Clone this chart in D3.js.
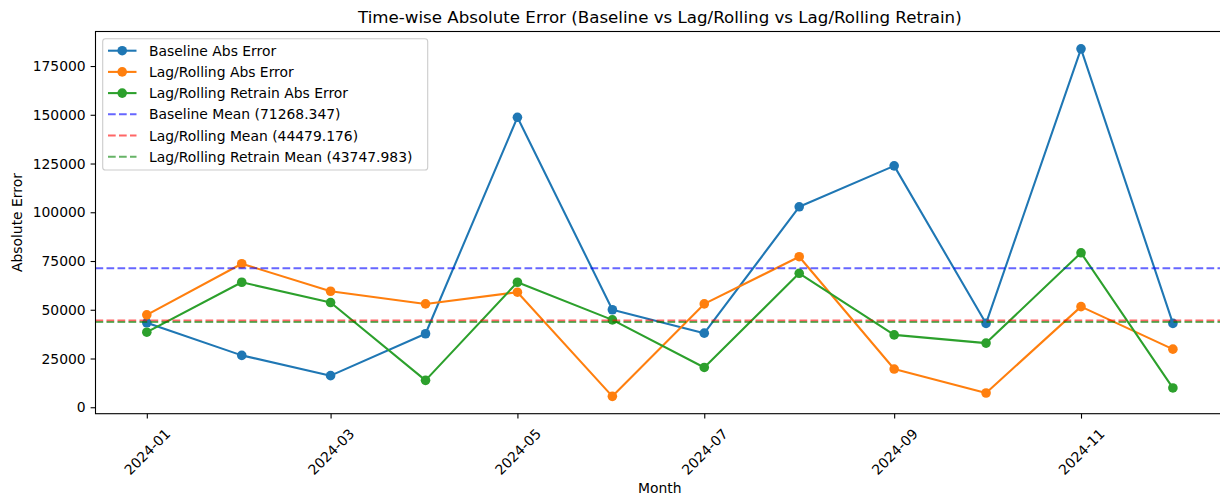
<!DOCTYPE html>
<html>
<head>
<meta charset="utf-8">
<script src="https://cdn.jsdelivr.net/npm/d3@7"></script>
<style>
  html, body { margin: 0; padding: 0; background: #fff; }
  svg { display: block; }
  text { font-family: "DejaVu Sans", sans-serif; fill: #000; }
</style>
</head>
<body>
<svg id="chart" width="1220" height="500"></svg>
<script>
// ---- data ----
const months = ["2024-01","2024-02","2024-03","2024-04","2024-05","2024-06",
                "2024-07","2024-08","2024-09","2024-10","2024-11","2024-12"];
const baselineErr = [43300, 26600, 16200, 37700, 148700, 50000, 38000, 102800, 123800, 43000, 183800, 43000];
const lagErr      = [47400, 73600, 59500, 53000, 59000, 5600, 53000, 77200, 19600, 7300, 51600, 29800];
const retrainErr  = [38500, 64100, 53700, 13800, 64100, 44800, 20400, 68700, 37100, 32900, 79200, 9900];
const meanValues  = [71268.347, 44479.176, 43747.983];
const yTicks = [0, 25000, 50000, 75000, 100000, 125000, 150000, 175000];
const xTickMonths = ["2024-01","2024-03","2024-05","2024-07","2024-09","2024-11"];

const seriesNames = ["Baseline Abs Error", "Lag/Rolling Abs Error", "Lag/Rolling Retrain Abs Error"];
const meanNames = ["Baseline Mean", "Lag/Rolling Mean", "Lag/Rolling Retrain Mean"];
const seriesColors = ["#1f77b4", "#ff7f0e", "#2ca02c"];
const meanColors = ["rgb(0,0,255)", "rgb(255,0,0)", "rgb(0,128,0)"];

(function () {
// ---- layout ----
const svg = d3.select("#chart");
const mLeft = 95.5, mTop = 31.5, mBottom = 413.7, mRight = 1224.2;
const parse = d3.utcParse("%Y-%m");
const dates = months.map(parse);
const span = dates[dates.length - 1] - dates[0];
const x = d3.scaleUtc()
  .domain([new Date(+dates[0] - span * 0.05), new Date(+dates[dates.length - 1] + span * 0.05)])
  .range([mLeft, mRight]);

const all = baselineErr.concat(lagErr, retrainErr);
const ymin = d3.min(all), ymax = d3.max(all);
const ypad = (ymax - ymin) * 0.05;
const y = d3.scaleLinear().domain([ymin - ypad, ymax + ypad]).range([mBottom, mTop]);

// title
svg.append("text")
  .attr("x", (mLeft + mRight) / 2).attr("y", 22.5)
  .attr("text-anchor", "middle").style("font-size", "16.67px")
  .text("Time-wise Absolute Error (Baseline vs Lag/Rolling vs Lag/Rolling Retrain)");

// series
const seriesData = [baselineErr, lagErr, retrainErr];
const line = d3.line().x((d, i) => x(dates[i])).y(d => y(d));
const plot = svg.append("g");
seriesData.forEach((vals, k) => {
  plot.append("path").datum(vals)
    .attr("d", line).attr("fill", "none")
    .attr("stroke", seriesColors[k]).attr("stroke-width", 2.08)
    .attr("stroke-linejoin", "round").attr("stroke-linecap", "square");
  plot.selectAll(null).data(vals).enter().append("circle")
    .attr("cx", (d, i) => x(dates[i])).attr("cy", d => y(d))
    .attr("r", 4.8).attr("fill", seriesColors[k]);
});

// mean lines
meanValues.forEach((m, k) => {
  plot.append("line")
    .attr("x1", mLeft).attr("x2", mRight)
    .attr("y1", y(m)).attr("y2", y(m))
    .attr("stroke", meanColors[k]).attr("stroke-opacity", 0.6)
    .attr("stroke-width", 2.08).attr("stroke-dasharray", "7.7,3.3");
});

// axes
const yAxis = d3.axisLeft(y).tickValues(yTicks).tickSize(4.9).tickPadding(4.9).tickFormat(d3.format("d"));
const gy = svg.append("g").attr("transform", `translate(${mLeft},0)`).call(yAxis);
gy.select(".domain").remove();
gy.selectAll("line").attr("stroke", "#000").attr("stroke-width", 1.1);
gy.selectAll("text").style("font-size", "13.9px").attr("dy", "0.33em").style("font-family", "DejaVu Sans");

const xAxis = d3.axisBottom(x).tickValues(xTickMonths.map(parse)).tickSize(4.9).tickFormat(d3.utcFormat("%Y-%m"));
const gx = svg.append("g").attr("transform", `translate(0,${mBottom})`).call(xAxis);
gx.select(".domain").remove();
gx.selectAll("line").attr("stroke", "#000").attr("stroke-width", 1.1);
gx.selectAll(".tick text")
  .attr("y", 0).attr("dy", null)
  .attr("transform", "translate(0,38) rotate(-45)")
  .attr("text-anchor", "middle")
  .attr("dominant-baseline", "central")
  .style("font-size", "13.9px").style("font-family", "DejaVu Sans");

// frame
svg.append("rect")
  .attr("x", mLeft).attr("y", mTop).attr("width", mRight - mLeft).attr("height", mBottom - mTop)
  .attr("fill", "none").attr("stroke", "#000").attr("stroke-width", 1.1);

// axis labels
svg.append("text").attr("x", (mLeft + mRight) / 2).attr("y", 493)
  .attr("text-anchor", "middle").style("font-size", "13.9px").text("Month");
svg.append("text").attr("transform", `translate(21.5,${(mTop + mBottom) / 2}) rotate(-90)`)
  .attr("text-anchor", "middle").style("font-size", "13.9px").text("Absolute Error");

// legend
const lg = svg.append("g");
lg.append("rect").attr("x", 102.7).attr("y", 38.7).attr("width", 325).attr("height", 131.3)
  .attr("rx", 2.8).attr("fill", "#fff").attr("fill-opacity", 0.8)
  .attr("stroke", "#cccccc").attr("stroke-width", 1.1);
const rows = seriesNames.map((n, k) => ({label: n, color: seriesColors[k], marker: true, alpha: 1, dash: null}))
  .concat(meanNames.map((n, k) => ({label: `${n} (${d3.format(".3f")(meanValues[k])})`, color: meanColors[k], marker: false, alpha: 0.6, dash: "7.7,3.3"})));
rows.forEach((r, i) => {
  const cy = 50.7 + i * 21.2;
  lg.append("line").attr("x1", 108).attr("x2", 136.5).attr("y1", cy).attr("y2", cy)
    .attr("stroke", r.color).attr("stroke-opacity", r.alpha).attr("stroke-width", 2.08)
    .attr("stroke-dasharray", r.dash);
  if (r.marker) lg.append("circle").attr("cx", 122.2).attr("cy", cy).attr("r", 4.8).attr("fill", r.color);
  lg.append("text").attr("x", 149).attr("y", cy).attr("dy", "0.36em")
    .style("font-size", "13.9px").text(r.label);
});
})();
</script>
</body>
</html>
